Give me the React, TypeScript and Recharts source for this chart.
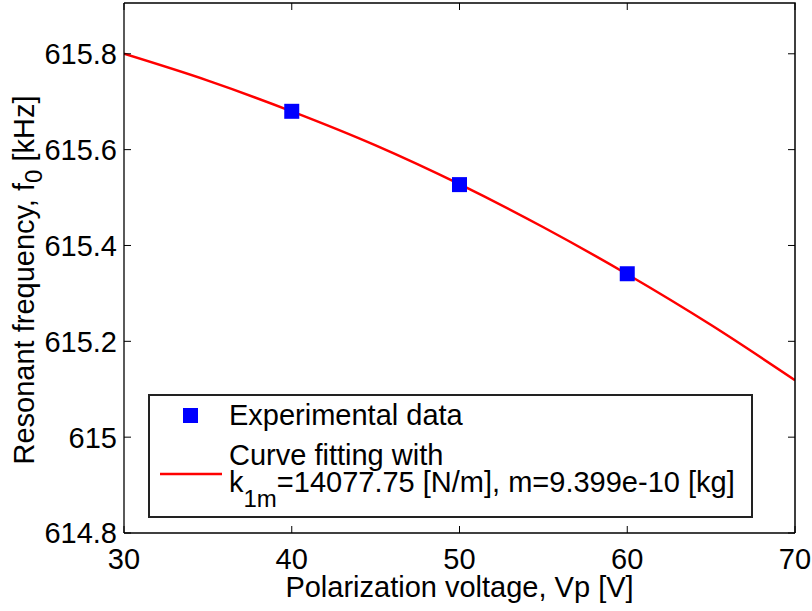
import { ComposedChart, Line, Scatter, XAxis, YAxis, Legend } from "recharts";

const FONT = '"Liberation Sans", Arial, Helvetica, sans-serif';

// x ticks / y ticks
const xTicks = [30, 40, 50, 60, 70];
const yTicks = [614.8, 615, 615.2, 615.4, 615.6, 615.8];
const xDomain = [30, 70];
const yDomain = [614.8, 615.906];

// measured points
const expVoltage = [40, 50, 60];
const expFreq = [615.68, 615.527, 615.341];

// fitted curve
const fitVoltage = [30, 35, 40, 45, 50, 55, 60, 65, 70];
const fitFreq = [615.8, 615.744, 615.68, 615.609, 615.528, 615.438, 615.34, 615.234, 615.119];

const expData = expVoltage.map((v, i) => ({ v, f: expFreq[i] }));
const fitData = fitVoltage.map((v, i) => ({ v, f: fitFreq[i] }));

// layout
const W = 812;
const H = 611;
const M_TOP = 3;
const M_RIGHT = 17;
const Y_AXIS_W = 124;
const X_AXIS_H = 78;
const PLOT_W = W - Y_AXIS_W - M_RIGHT;
const PLOT_H = H - M_TOP - X_AXIS_H;
const TICK = 7;
const AXIS = { stroke: "#000", strokeWidth: 1.3 };

// bottom tick + its mirror on the top edge
const BottomTick = ({ x, y, payload }: any) => (
  <g>
    <path d={`M${x},${y}v${-TICK}M${x},${y - PLOT_H}v${TICK}`} stroke="#000" strokeWidth={1} />
    <text x={x} y={y + 36} textAnchor="middle" fontSize={29} fontFamily={FONT} fill="#000">
      {payload.value}
    </text>
  </g>
);

// left tick + its mirror on the right edge
const LeftTick = ({ x, y, payload }: any) => (
  <g>
    <path d={`M${x},${y}h${TICK}M${x + PLOT_W},${y}h${-TICK}`} stroke="#000" strokeWidth={1} />
    <text x={x - 7} y={y} dy="0.36em" textAnchor="end" fontSize={29} fontFamily={FONT} fill="#000">
      {payload.value}
    </text>
  </g>
);

const Square = ({ cx, cy }: any) => <rect x={cx - 7.5} y={cy - 7.5} width={15} height={15} fill="#0000ff" />;

const YLabel = ({ viewBox }: any) => {
  const cx = viewBox.x + 34;
  const cy = viewBox.y + viewBox.height / 2 + 12;
  return (
    <text transform={`translate(${cx},${cy}) rotate(-90)`} textAnchor="middle" fontSize={29} fontFamily={FONT} fill="#000">
      Resonant frequency, f
      <tspan fontSize={24} dy={8}>0</tspan>
      <tspan dy={-8}> [kHz]</tspan>
    </text>
  );
};

// x label plus the top and right sides of the axes box
const XLabel = ({ viewBox }: any) => {
  const left = viewBox.x;
  const right = viewBox.x + viewBox.width;
  const bottom = viewBox.y;
  const top = bottom - PLOT_H;
  return (
    <g>
      <path d={`M${left},${top}H${right}V${bottom}`} fill="none" stroke="#000" strokeWidth={1.5} />
      <text x={left + viewBox.width / 2} y={bottom + 64} textAnchor="middle" fontSize={29} fontFamily={FONT} fill="#000">
        Polarization voltage, Vp [V]
      </text>
    </g>
  );
};

const LegendBox = () => (
  <svg width={605} height={124} style={{ display: "block" }}>
    <rect x={1} y={1} width={603} height={122} fill="#fff" stroke="#222" strokeWidth={2} />
    <rect x={35} y={14} width={15} height={15} fill="#0000ff" />
    <text x={81} y={31} fontSize={29} fontFamily={FONT} fill="#000">Experimental data</text>
    <line x1={12} x2={74} y1={80} y2={80} stroke="#ff0000" strokeWidth={2.5} />
    <text x={81} y={71} fontSize={29} fontFamily={FONT} fill="#000">Curve fitting with</text>
    <text x={81} y={98} fontSize={29} fontFamily={FONT} fill="#000">
      k<tspan fontSize={24} dy={15}>1m</tspan>
      <tspan dy={-15}>=14077.75 [N/m], m=9.399e-10 [kg]</tspan>
    </text>
  </svg>
);

export default function App() {
  return (
    <div style={{ position: "absolute", left: 0, top: 0, width: W, height: H, background: "#fff" }}>
      <ComposedChart width={W} height={H} margin={{ top: M_TOP, right: M_RIGHT, left: 0, bottom: 0 }}>
        <XAxis
          dataKey="v"
          type="number"
          domain={xDomain}
          ticks={xTicks}
          height={X_AXIS_H}
          tickSize={0}
          tickMargin={0}
          tick={<BottomTick />}
          axisLine={AXIS}
          allowDataOverflow
          label={<XLabel />}
        />
        <YAxis
          type="number"
          domain={yDomain}
          ticks={yTicks}
          width={Y_AXIS_W}
          tickSize={0}
          tickMargin={0}
          tick={<LeftTick />}
          axisLine={AXIS}
          allowDataOverflow
          label={<YLabel />}
        />
        <Scatter data={expData} dataKey="f" shape={<Square />} isAnimationActive={false} />
        <Line
          data={fitData}
          dataKey="f"
          type="monotone"
          stroke="#ff0000"
          strokeWidth={2.5}
          dot={false}
          isAnimationActive={false}
        />
        <Legend
          layout="horizontal"
          verticalAlign="middle"
          align="center"
          content={<LegendBox />}
          wrapperStyle={{ left: 148, top: 394, width: 605, height: 124 }}
        />
      </ComposedChart>
    </div>
  );
}
